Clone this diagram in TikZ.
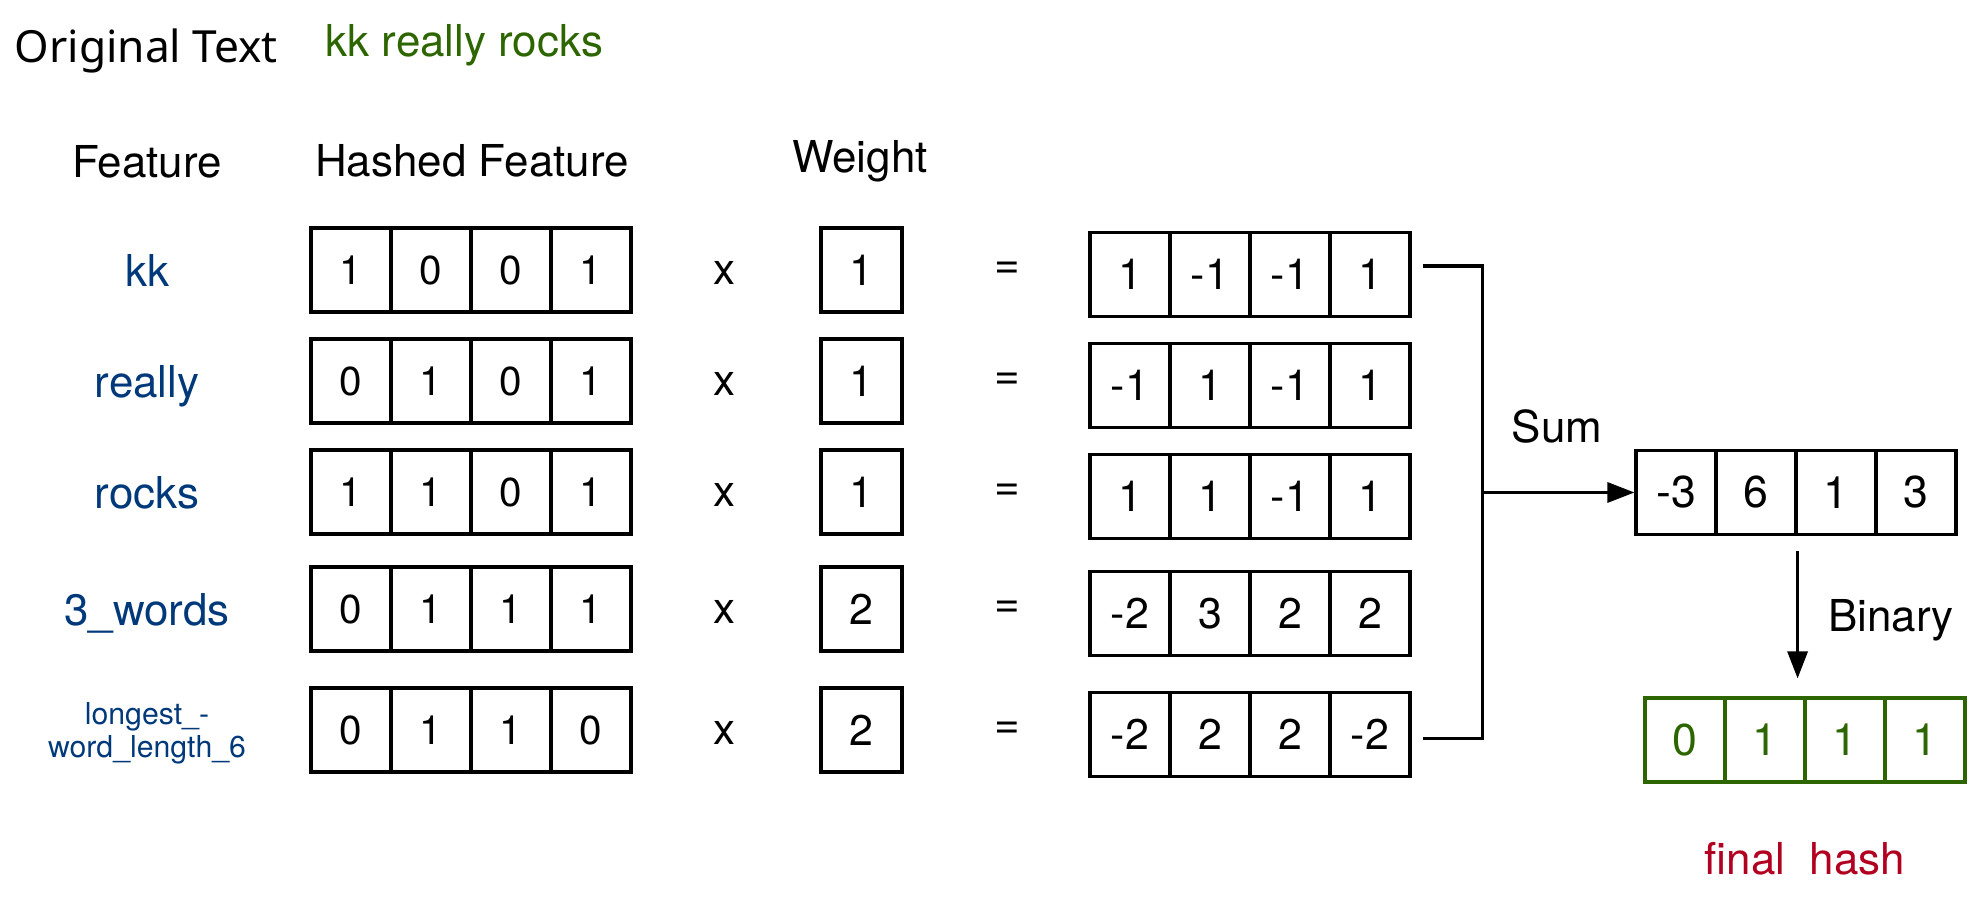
\documentclass[tikz,border=0pt]{standalone}
\usepackage{fontspec}
\setmainfont{TeX Gyre Heros}
\newfontfamily\titlefont{Noto Sans}
\usetikzlibrary{arrows.meta,calc}

\definecolor{featblue}{HTML}{00397A}
\definecolor{textgreen}{HTML}{2D6600}
\definecolor{hashred}{HTML}{B20020}

\tikzset{
  cell/.style={draw, line width=0.9pt, minimum width=0.8cm, minimum height=0.84cm,
    inner sep=0pt, font=\fontsize{11.5}{13}\selectfont},
  bigcell/.style={cell, font=\fontsize{12.2}{14}\selectfont},
  greencell/.style={cell, draw=textgreen, text=textgreen, font=\fontsize{12.7}{14}\selectfont},
  lbl/.style={font=\fontsize{12.5}{15}\selectfont, anchor=base, inner sep=0pt},
  op/.style={font=\fontsize{12.5}{15}\selectfont, inner sep=0pt},
  feat/.style={lbl, text=featblue},
  link/.style={line width=0.9pt},
  arrow/.style={link, -{Triangle[length=0.27cm,width=0.2cm]}}
}

\begin{document}
\begin{tikzpicture}[y=-1cm]
    \useasboundingbox (0,0) rectangle (19.69,8.99);

    % Title line
    \node[lbl, anchor=base west, font=\titlefont\fontsize{12.6}{15}\selectfont] (orig) at (0.14,0.63) {Original Text};
    \node[lbl, anchor=base west, text=textgreen] (sent) at (3.25,0.57) {kk really rocks};

    % Column heads
    \node[lbl] (feathead) at (1.47,1.78) {Feature};
    \node[lbl] (hashhead) at (4.72,1.77) {Hashed Feature};
    \node[lbl] (weighthead) at (8.60,1.73) {Weight};

    % Feature names
    \node[feat] (lab1) at (1.47,2.87) {kk};
    \node[feat] (lab2) at (1.47,3.98) {really};
    \node[feat] (lab3) at (1.47,5.09) {rocks};
    \node[feat] (lab4) at (1.47,6.26) {3\_words};
    \node[feat, font=\fontsize{8.6}{9.4}\selectfont, align=center] (lab5) at (1.47,7.58) {longest\_-\\word\_length\_6};

    % Hashed feature x weight = weighted row
    \foreach \r/\y/\hv/\wv/\pv in {1/2.70/{1,0,0,1}/1/{1,-1,-1,1},
                                   2/3.81/{0,1,0,1}/1/{-1,1,-1,1},
                                   3/4.92/{1,1,0,1}/1/{1,1,-1,1},
                                   4/6.09/{0,1,1,1}/2/{-2,3,2,2},
                                   5/7.30/{0,1,1,0}/2/{-2,2,2,-2}}
    {
        \foreach \v [count=\c] in \hv
            \node[cell] (h\r-\c) at (2.71+0.8*\c,\y) {\v};
        \node[op] (x\r) at (7.24,\y+0.03) {x};
        \node[bigcell, minimum width=0.81cm] (w\r) at (8.615,\y) {\wv};
        \node[op] (eq\r) at (10.07,\y) {=};
        \foreach \v [count=\c] in \pv
            \node[bigcell] (p\r-\c) at (10.50+0.8*\c,\y+0.045) {\v};
    }

    % Sum and final hash
    \foreach \v [count=\c] in {-3,6,1,3}
        \node[cell, font=\fontsize{12.7}{14}\selectfont] (s-\c) at (15.96+0.8*\c,4.925) {\v};
    \foreach \v [count=\c] in {0,1,1,1}
        \node[greencell] (fin-\c) at (16.05+0.8*\c,7.40) {\v};

    \node[lbl] (sumlbl) at (15.57,4.43) {Sum};
    \node[lbl] (binlbl) at (18.91,6.32) {Binary};
    \node[lbl, text=hashred] (finlbl) at (18.05,8.75) {final\ \ hash};

    % Connectors
    \coordinate (a1) at ($(p1-4.east)+(0.11,-0.085)$);
    \coordinate (a5) at ($(p5-4.east)+(0.11,0.04)$);
    \coordinate (jn) at ($(a1)+(0.6,0)$);
    \draw[link] (a1) -- (jn) |- (a5);
    \draw[arrow] (jn |- s-1.west) -- (s-1.west);
    \draw[arrow, shorten >=0.18cm] ($(s-2.south east)+(0,0.15)$) -- (s-2.south east |- fin-1.north);
\end{tikzpicture}
\end{document}
